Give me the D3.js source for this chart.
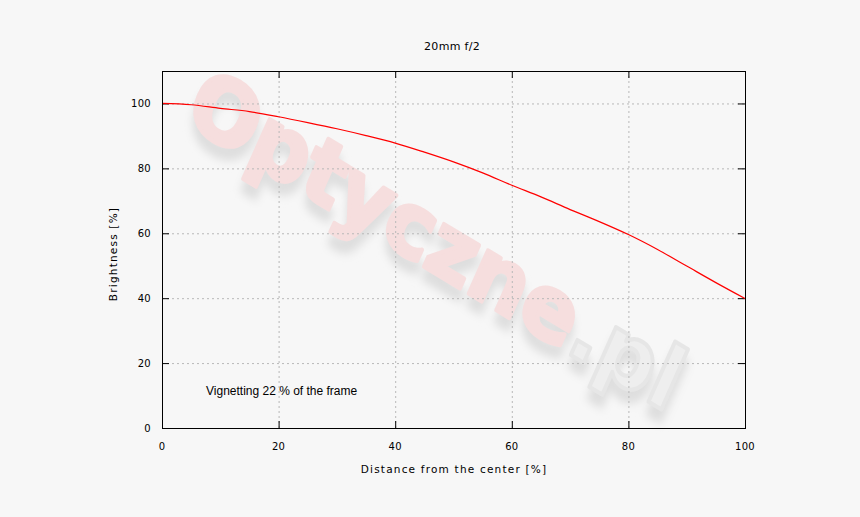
<!DOCTYPE html>
<html><head><meta charset="utf-8">
<script src="https://cdn.jsdelivr.net/npm/d3@7"></script>
<style>
body{margin:0;background:#f7f7f7;}
text{font-family:"DejaVu Sans",Verdana,sans-serif;}
text.note{font-family:"Liberation Sans",Arial,sans-serif;}
</style></head>
<body><svg id="c" width="860" height="517"></svg>
<script>
const distance = [0,5,10,15,20,25,30,35,40,45,50,55,60,65,70,75,80,85,90,95,100];
const brightness = [100,99.6,98.5,97.5,95.9,94.1,92.2,90.1,87.8,85.0,82.0,78.6,74.8,71.2,67.3,63.6,59.6,55.0,49.9,44.8,39.9];
const xTicks = [0,20,40,60,80,100];
const yTicks = [0,20,40,60,80,100];
const title = "20mm f/2";
const note = "Vignetting 22 % of the frame";

const svg = d3.select("#c");
svg.append("rect").attr("width",860).attr("height",517).attr("fill","#f7f7f7");
const L=162,R=745,T=71,B=428;
const x = d3.scaleLinear().domain([0,100]).range([L,R]);
const y = d3.scaleLinear().domain([0,110]).range([B,T]);

// watermark
const defs = svg.append("defs");
const f = defs.append("filter").attr("id","blur").attr("x","-20%").attr("y","-20%").attr("width","140%").attr("height","140%");
f.append("feGaussianBlur").attr("stdDeviation",4);
const wm = svg.append("g").attr("transform","translate(434,246) rotate(31) skewX(7)");
function wmText(dx,dy,shadow){
  const t = wm.append("text").attr("x",dx).attr("y",dy).attr("text-anchor","middle").attr("dominant-baseline","middle")
    .attr("font-size",86).attr("font-weight","bold").attr("letter-spacing",-1)
    .attr("stroke-width",4).attr("stroke-linejoin","round");
  if(shadow){
    t.attr("fill","#dedede").attr("stroke","#dedede").attr("filter","url(#blur)").text("Optyczne.pl");
  } else {
    t.append("tspan").attr("fill","#f6dede").attr("stroke","#f6dede").text("Optyczne");
    t.append("tspan").attr("fill","#eeeeee").attr("stroke","#e6e6e6").text(".pl");
  }
}
wmText(4,10,true);
wmText(0,0,false);

// grid
const g = svg.append("g");
g.selectAll(".gx").data(xTicks.filter(d=>d>0&&d<100)).join("line")
  .attr("x1",d=>x(d)+0.5).attr("x2",d=>x(d)+0.5).attr("y1",T).attr("y2",B)
  .attr("stroke","#b8b8b8").attr("stroke-dasharray","2,3");
g.selectAll(".gy").data(yTicks.filter(d=>d>0)).join("line")
  .attr("x1",L).attr("x2",R).attr("y1",d=>y(d)+0.5).attr("y2",d=>y(d)+0.5)
  .attr("stroke","#b8b8b8").attr("stroke-dasharray","2,3");

// ticks inward on all sides
const tk = svg.append("g").attr("stroke","#000");
xTicks.forEach(d=>{
  tk.append("line").attr("x1",x(d)+0.5).attr("x2",x(d)+0.5).attr("y1",B).attr("y2",B-7);
  tk.append("line").attr("x1",x(d)+0.5).attr("x2",x(d)+0.5).attr("y1",T).attr("y2",T+7);
});
yTicks.forEach(d=>{
  tk.append("line").attr("x1",L).attr("x2",L+7).attr("y1",y(d)+0.5).attr("y2",y(d)+0.5);
  tk.append("line").attr("x1",R).attr("x2",R-7).attr("y1",y(d)+0.5).attr("y2",y(d)+0.5);
});

// curve
svg.append("path").datum(distance.map((d,i)=>[d,brightness[i]]))
  .attr("fill","none").attr("stroke","#ff0000").attr("stroke-width",1.2)
  .attr("d",d3.line().x(d=>x(d[0])).y(d=>y(d[1])).curve(d3.curveMonotoneX));

// frame
svg.append("rect").attr("x",L+0.5).attr("y",T+0.5).attr("width",R-L).attr("height",B-T)
  .attr("fill","none").attr("stroke","#000");

// labels
const lab = svg.append("g").attr("font-size",10).attr("fill","#000").attr("letter-spacing",0.3);
lab.selectAll(".xl").data(xTicks).join("text").attr("x",d=>x(d)).attr("y",450)
  .attr("text-anchor","middle").text(d=>d);
lab.selectAll(".yl").data(yTicks).join("text").attr("x",151).attr("y",d=>y(d)+4)
  .attr("text-anchor","end").text(d=>d);
svg.append("text").attr("x",454).attr("y",473).attr("text-anchor","middle").attr("font-size",10.5).attr("letter-spacing",1.2).text("Distance from the center [%]");
svg.append("text").attr("transform","translate(117,254) rotate(-90)").attr("text-anchor","middle").attr("font-size",10.5).attr("letter-spacing",1.2).text("Brightness [%]");
svg.append("text").attr("x",452).attr("y",50).attr("text-anchor","middle").attr("font-size",11).attr("letter-spacing",0.3).text(title);
svg.append("text").attr("class","note").attr("x",206).attr("y",395).attr("font-size",12).text(note);
</script></body></html>
